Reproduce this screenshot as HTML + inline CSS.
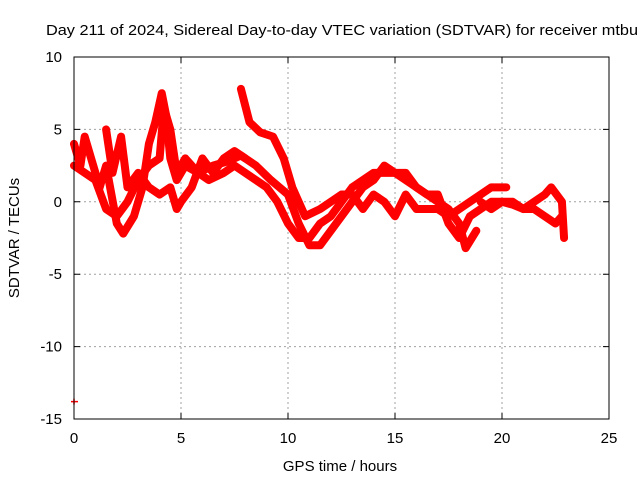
<!DOCTYPE html>
<html><head><meta charset="utf-8"><style>
html,body{margin:0;padding:0;background:#fff;}
svg{display:block;font-family:"Liberation Sans",sans-serif;}
</style></head><body>
<svg id="c" width="640" height="480" viewBox="0 0 640 480">
<rect width="640" height="480" fill="#fff"/>
<g id="grid"></g>
<g id="marks"></g>
<rect x="74" y="57" width="535" height="362" fill="none" stroke="#000" stroke-width="1"/>
<g id="ticks"></g>
<text x="46" y="35" font-size="15" textLength="592" lengthAdjust="spacingAndGlyphs" fill="#000">Day 211 of 2024, Sidereal Day-to-day VTEC variation (SDTVAR) for receiver mtbu</text>
<text x="340" y="471" font-size="15" text-anchor="middle">GPS time / hours</text>
<text transform="translate(19,238) rotate(-90)" font-size="15" text-anchor="middle">SDTVAR / TECUs</text>
</svg>
<script>
const xTicks=[0,5,10,15,20,25];
const yTicks=[10,5,0,-5,-10,-15];
const traceA=[[0,4],[0.3,2.5],[0.5,4.5],[0.8,3],[1.2,1],[1.5,2.5],[2,-1.5],[2.3,-2.2],[2.8,-1],[3.2,1],[3.5,4],[3.8,5.5],[4.1,7.5],[4.3,6],[4.5,3],[4.8,1.5],[5.2,2.5],[5.8,2],[6.5,2.5],[7.2,2.8],[7.8,3.2],[8.5,2.5],[9.2,1.5],[10,0.5],[10.5,-1.5],[11,-3],[11.5,-3],[12,-2],[12.5,-1],[13,0],[13.5,1],[14,1.5],[14.5,2.5],[15,2],[15.5,1.5],[16,1],[16.5,0.5],[17,0],[17.5,-0.5],[18,-1.5],[18.3,-3.2],[18.8,-2]];
const traceB=[[7.8,7.8],[8.2,5.5],[8.7,4.8],[9.3,4.5],[9.8,3],[10.2,1],[10.8,-1],[11.5,-0.5],[12,0],[12.5,0.5],[13,0.5],[13.5,-0.5],[14,0.5],[14.5,0],[15,-1],[15.5,0.5],[16,-0.5],[17,-0.5],[17.5,-1],[18,-0.5],[18.5,0],[19,0.5],[19.5,1],[20.2,1]];
const traceC=[[0,2.5],[0.5,2],[1,1.5],[1.5,-0.5],[2,-1],[2.5,0],[3,1.5],[3.5,2.5],[4,3],[4.2,6.5],[4.5,5],[4.8,2],[5.2,3],[5.8,2],[6.3,1.5],[7,2],[7.5,2.5],[8,2],[8.5,1.5],[9,1],[9.5,0],[10,-1.5],[10.5,-2.5],[11,-2.5],[11.5,-1.5],[12,-1],[12.5,0],[13,1],[13.5,1.5],[14,2],[14.5,2],[15,2],[15.5,2],[16,1],[16.5,0.5],[17,0.5],[17.5,-1.5],[18,-2.5],[18.5,-1],[19,-0.5],[19.5,0],[20,0],[20.5,-0.2],[21,-0.5],[21.5,0],[22,0.5],[22.3,1],[22.8,0],[22.9,-2.5]];
const traceD=[[19,0],[19.5,-0.5],[20,0],[20.5,0],[21,-0.5],[21.5,-0.5],[22,-1],[22.5,-1.5],[22.8,-1]];
const traceE=[[1.5,5],[1.8,2],[2.2,4.5],[2.5,1],[3,2],[3.5,1],[4,0.5],[4.5,1],[4.8,-0.5],[5,0],[5.5,1],[6,3],[6.5,2],[7,3],[7.5,3.5],[8,3]];
const outlier=[[0,-13.8]];
const NS="http://www.w3.org/2000/svg";
const X=v=>74+(v-0)/25*535;
const Y=v=>57+(10-v)/25*362;
function mk(tag,attrs,parent){const e=document.createElementNS(NS,tag);for(const k in attrs)e.setAttribute(k,attrs[k]);parent.appendChild(e);return e;}
const grid=document.getElementById('grid'),ticks=document.getElementById('ticks'),marks=document.getElementById('marks');
xTicks.forEach(t=>{
  if(t>0&&t<25){const g=mk('line',{x1:X(t),x2:X(t),y1:57,y2:419,stroke:'#a0a0a0','stroke-dasharray':'2,3'},grid);
  
  }
  const a=mk('path',{d:`M${X(t)},419v-6M${X(t)},57v6`,stroke:'#000'},ticks);
  
  
  const l=mk('text',{x:X(t),y:443,'font-size':15,'text-anchor':'middle'},ticks);l.textContent=t;
  
  
});
yTicks.forEach(t=>{
  if(t<10&&t>-15){const g=mk('line',{x1:74,x2:609,y1:Y(t),y2:Y(t),stroke:'#a0a0a0','stroke-dasharray':'2,3'},grid);
  
  }
  const a=mk('path',{d:`M74,${Y(t)}h6M609,${Y(t)}h-6`,stroke:'#000'},ticks);
  
  
  const l=mk('text',{x:62,y:Y(t)+5,'font-size':15,'text-anchor':'end'},ticks);l.textContent=t;
  
  
});
[traceA,traceB,traceC,traceD,traceE].forEach((tr,i)=>{
  const p=mk('polyline',{points:tr.map(d=>X(d[0])+','+Y(d[1])).join(' '),fill:'none',stroke:'#ff0000','stroke-width':8,'stroke-linejoin':'round','stroke-linecap':'round'},marks);
  
  
});
outlier.forEach(d=>{
  const p=mk('path',{d:`M${X(d[0])-3},${Y(d[1])}h7M${X(d[0])},${Y(d[1])-3}v6`,stroke:'#ff0000','stroke-width':1.5},marks);
  
  
});
</script>
</body></html>
